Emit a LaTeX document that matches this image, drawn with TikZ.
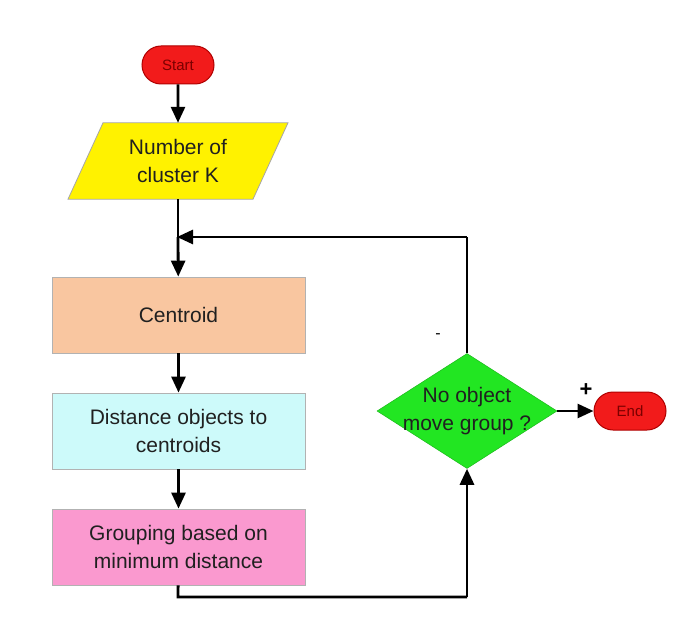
\documentclass[tikz,border=0pt]{standalone}
\usepackage{fontspec}
\setmainfont{Liberation Sans}
\usetikzlibrary{shapes.geometric,shapes.misc,arrows.meta}
\definecolor{termred}{HTML}{F21B1B}
\definecolor{termedge}{HTML}{B00000}
\definecolor{inyellow}{HTML}{FFF200}
\definecolor{peach}{HTML}{F9C6A0}
\definecolor{paleblue}{HTML}{CDFAFA}
\definecolor{pink}{HTML}{FA99CF}
\definecolor{decgreen}{HTML}{22E622}
\definecolor{txt}{HTML}{202020}
\begin{document}
\begin{tikzpicture}[x=1pt,y=-1pt,
  every node/.style={font=\fontsize{21}{28}\selectfont, text=txt, align=center},
  terminal/.style={rounded rectangle, draw=termedge, line width=1pt, fill=termred,
    minimum width=72pt, minimum height=38pt, inner sep=0pt,
    font=\fontsize{15}{17}\selectfont, text=termedge!70!black},
  iobody/.style={rectangle, minimum width=185pt, minimum height=76pt, inner sep=0pt},
  procbox/.style={rectangle, draw=gray!60, line width=0.8pt,
    minimum width=253pt, minimum height=76pt, inner sep=0pt},
  decision/.style={diamond, fill=decgreen, draw=decgreen!80!black, line width=0.5pt,
    minimum width=180pt, minimum height=115pt, inner sep=0pt},
  flow/.style={line width=2.8pt, draw=black, -{Triangle[length=16pt,width=14pt]}},
  plain/.style={line width=2.8pt, draw=black}
]
\useasboundingbox (0,0) rectangle (687,628);
\fill[white] (0,0) rectangle (687,628);

\node[terminal] (start) at (178,65) {Start};
% input parallelogram, leaning right
\node[iobody] (k) at (178,161) {};
\filldraw[fill=inyellow, draw=gray!70, line width=0.8pt]
  ([xshift=-75pt]k.north) -- ([xshift=110pt]k.north)
  -- ([xshift=75pt]k.south) -- ([xshift=-110pt]k.south) -- cycle;
\node (klabel) at (k.center) {Number of\\cluster K};
\coordinate (join) at (178,237);
\node[procbox, fill=peach] (cent) at (178.5,315) {Centroid};
\node[procbox, fill=paleblue] (dist) at (178.5,431) {Distance objects to\\centroids};
\node[procbox, fill=pink] (grp) at (178.5,547) {Grouping based on\\minimum distance};
% decision: fixed-size diamond with its label set on top
\node[decision] (dec) at (467,411) {};
\node (declabel) at (dec.center) {No object\\move group ?};
\node[terminal] (end) at (630,411) {End};
\coordinate (low) at (178,597);
\coordinate (corner) at (467,597);
\coordinate (top) at (467,237);

\node[font=\fontsize{16}{18}\selectfont, text=black] (minus) at (438,336) {-};
\node[font=\bfseries\fontsize{22}{24}\selectfont, text=black] (plus) at (586,390) {+};

\draw[flow] (start) -- (k);
\draw[plain] (k) -- (join);
\draw[flow] (join) -- (cent);
\draw[flow] (cent) -- (dist);
\draw[flow] (dist) -- (grp);
\draw[plain] (grp) -- (low) -- (corner);
\draw[flow] (corner) -- (dec.south);
\draw[plain] (dec.north) -- (top);
\draw[flow] (top) -- ([xshift=-1pt]join);
\draw[flow] (dec.east) -- (end.west);
\end{tikzpicture}
\end{document}
